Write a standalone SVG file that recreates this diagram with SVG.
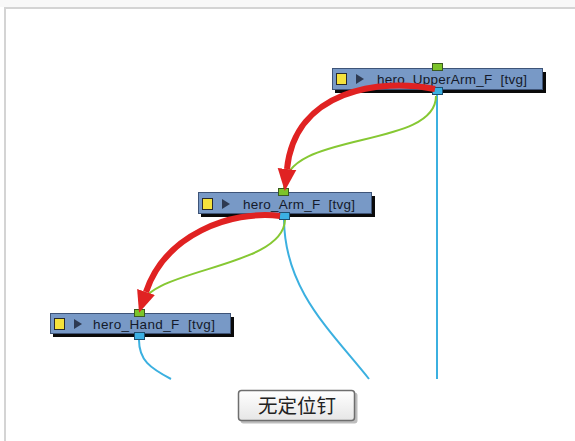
<svg xmlns="http://www.w3.org/2000/svg" width="575" height="441" viewBox="0 0 575 441">
<defs>
<style>
.box{fill:#7899c6;stroke:#3e5478;stroke-width:1}
.shadow{fill:#0a0a0a}
.lbl{font-family:"Liberation Sans",Arial,sans-serif;font-size:13.5px;fill:#141a2a;white-space:pre}
.yel{fill:#f5e23c;stroke:#2a2a2a;stroke-width:1}
.tri{fill:#2e3a52}
.pg{fill:#7cc42a;stroke:#3a5a20;stroke-width:1}
.pb{fill:#3bb0e4;stroke:#1f4f70;stroke-width:1}
.blue{fill:none;stroke:#3bb0e0;stroke-width:2}
.green{fill:none;stroke:#86c833;stroke-width:2}
.red{fill:none;stroke:#e02222;stroke-width:6}
</style>
<marker id="ah" markerUnits="userSpaceOnUse" markerWidth="22" markerHeight="20" refX="0" refY="8.5" orient="auto" viewBox="0 0 20 17">
<path d="M0,0 L20,8.5 L0,17 Z" fill="#e02222"/>
</marker>
<linearGradient id="btn" x1="0" y1="0" x2="0" y2="1">
<stop offset="0" stop-color="#ffffff"/>
<stop offset="1" stop-color="#e6e6e6"/>
</linearGradient>
</defs>
<rect x="0" y="0" width="575" height="441" fill="#ffffff"/>
<rect x="0" y="0" width="575" height="7" fill="#f8f8f8"/>
<rect x="4" y="7" width="571" height="2" fill="#d4d4d4"/>
<rect x="4" y="7" width="2" height="434" fill="#d4d4d4"/>

<g id="connectors">
<path class="blue" d="M437,95 V379"/>
<path class="blue" d="M284,220 C285,290 330,330 369,379"/>
<path class="blue" d="M139,340 C139,360 150,368 171,379"/>
<path class="green" d="M436,96 C436,150 284,130 284,188"/>
<path class="green" d="M285,220 C283,270 140,268 140,310"/>
</g>

<g id="node-upperarm">
<rect class="shadow" x="335" y="72" width="211" height="21"/>
<rect class="box" x="332.5" y="68.5" width="210" height="21"/>
<rect class="yel" x="336.5" y="73.5" width="10" height="11"/>
<path class="tri" d="M356,74 L364,79 L356,84 Z"/>
<text class="lbl" x="377" y="84" textLength="150" lengthAdjust="spacing" xml:space="preserve">hero_UpperArm_F  [tvg]</text>
<rect class="pg" x="432.5" y="63.5" width="10" height="7"/>
<rect class="pb" x="432.5" y="87.5" width="10" height="7"/>
</g>

<g id="node-arm">
<rect class="shadow" x="201" y="196" width="174" height="21"/>
<rect class="box" x="198.5" y="192.5" width="173" height="21"/>
<rect class="yel" x="202.5" y="198.5" width="10" height="11"/>
<path class="tri" d="M222,199 L230,204 L222,209 Z"/>
<text class="lbl" x="243" y="209" textLength="112" lengthAdjust="spacing" xml:space="preserve">hero_Arm_F  [tvg]</text>
<rect class="pg" x="278.5" y="188.5" width="10" height="7"/>
<rect class="pb" x="279.5" y="212.5" width="10" height="7"/>
</g>

<g id="node-hand">
<rect class="shadow" x="53" y="317" width="181" height="20"/>
<rect class="box" x="50.5" y="313.5" width="180" height="20"/>
<rect class="yel" x="54.5" y="318.5" width="10" height="11"/>
<path class="tri" d="M74,319 L82,324 L74,329 Z"/>
<text class="lbl" x="93" y="329" textLength="122" lengthAdjust="spacing" xml:space="preserve">hero_Hand_F  [tvg]</text>
<rect class="pg" x="134.5" y="309.5" width="10" height="7"/>
<rect class="pb" x="134.5" y="332.5" width="10" height="7"/>
</g>

<g id="arrows">
<path class="red" d="M435,89 C380,78 295,90 287,169" marker-end="url(#ah)"/>
<path class="red" d="M280,216 C230,210 165,235 146,292" marker-end="url(#ah)"/>
</g>

<g id="button">
<rect x="240.5" y="392.5" width="117" height="31" rx="3" fill="#bdbdbd"/>
<rect x="238.5" y="390.5" width="116" height="30" rx="3" fill="url(#btn)" stroke="#6e6e6e" stroke-width="1.5"/>
<text x="297" y="413" text-anchor="middle" font-family="'Noto Sans CJK SC',sans-serif" font-size="19.5" fill="#222">无定位钉</text>
</g>
</svg>
